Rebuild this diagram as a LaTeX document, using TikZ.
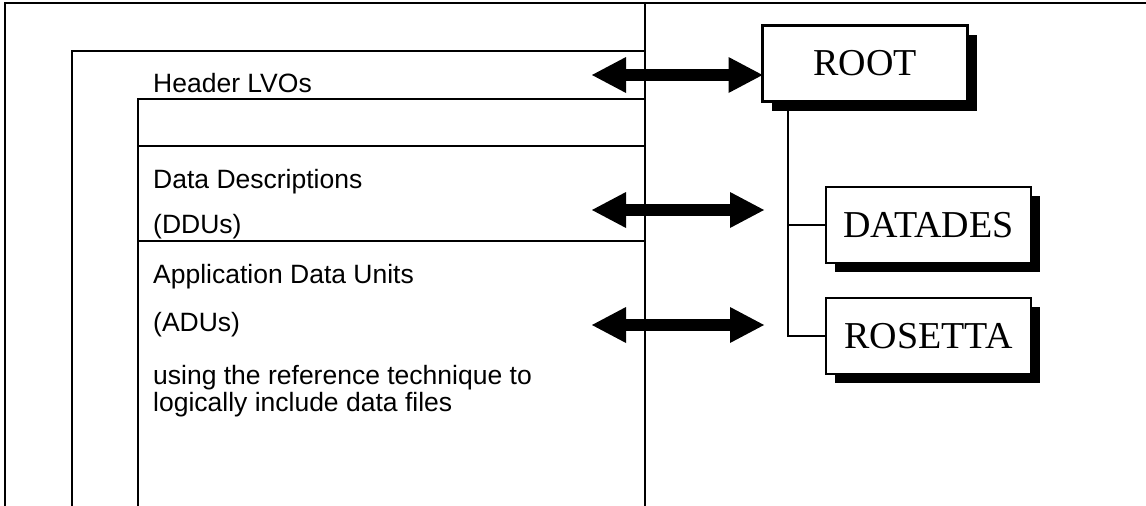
\documentclass[tikz,border=0pt]{standalone}
\usepackage{fontspec}
\setmainfont{Liberation Sans}
\newfontfamily\boxserif{Liberation Serif}
\usetikzlibrary{arrows.meta,shadows}
\begin{document}
\begin{tikzpicture}[x=1pt,y=-1pt,
  frame/.style={line width=2.6pt},
  lbl/.style={anchor=base west, inner sep=0pt, font=\fontsize{26.5}{30}\selectfont},
  tbox/.style={draw, line width=2.6pt, fill=white, minimum width=205pt, minimum height=76pt,
    inner sep=0pt, outer sep=0pt, font=\boxserif\fontsize{38}{40}\selectfont,
    general shadow={fill=black, shadow xshift=9pt, shadow yshift=-9pt}},
  dblarrow/.style={line width=12.5pt,
    {Triangle[length=34pt,width=36pt,line width=0pt]}-{Triangle[length=34pt,width=36pt,line width=0pt]}},
  tree/.style={line width=2.4pt}]
\useasboundingbox (0,0) rectangle (1146,506);
% frames
\draw[frame] (5,506) -- (5,3) -- (1146,3);
\draw[frame] (72,506) -- (72,51) -- (645,51);
\draw[frame] (138,506) -- (138,99) -- (645,99);
\draw[frame] (138,146) -- (645,146);
\draw[frame] (138,241) -- (645,241);
\draw[frame] (645,3) -- (645,506);
% texts
\node[lbl] (hdr) at (153,92) {Header LVOs};
\node[lbl] (dd1) at (153,188) {Data Descriptions};
\node[lbl] (dd2) at (153,233) {(DDUs)};
\node[lbl] (ad1) at (153,283) {Application Data Units};
\node[lbl] (ad2) at (153,331) {(ADUs)};
\node[lbl] (ad3) at (153,384) {using the reference technique to};
\node[lbl] (ad4) at (153,411) {logically include data files};
% boxes
\node[tbox] (root) at (865,63.5) {ROOT};
\node[tbox] (datades) at (928.5,225) {DATADES};
\node[tbox] (rosetta) at (928.5,336) {ROSETTA};
% tree
\coordinate (tx) at (788,0);
\draw[tree] (root.south -| tx) -- (tx |- rosetta.west) -- (rosetta.west);
\draw[tree] (tx |- datades.west) -- (datades.west);
% arrows
\coordinate (a1l) at (592,75);
\coordinate (a2l) at (592,210);
\coordinate (a2r) at (764,210);
\coordinate (a3l) at (592,325);
\coordinate (a3r) at (764,325);
\draw[dblarrow] (a1l) -- (a1l -| root.west);
\draw[dblarrow] (a2l) -- (a2r);
\draw[dblarrow] (a3l) -- (a3r);
\end{tikzpicture}
\end{document}
